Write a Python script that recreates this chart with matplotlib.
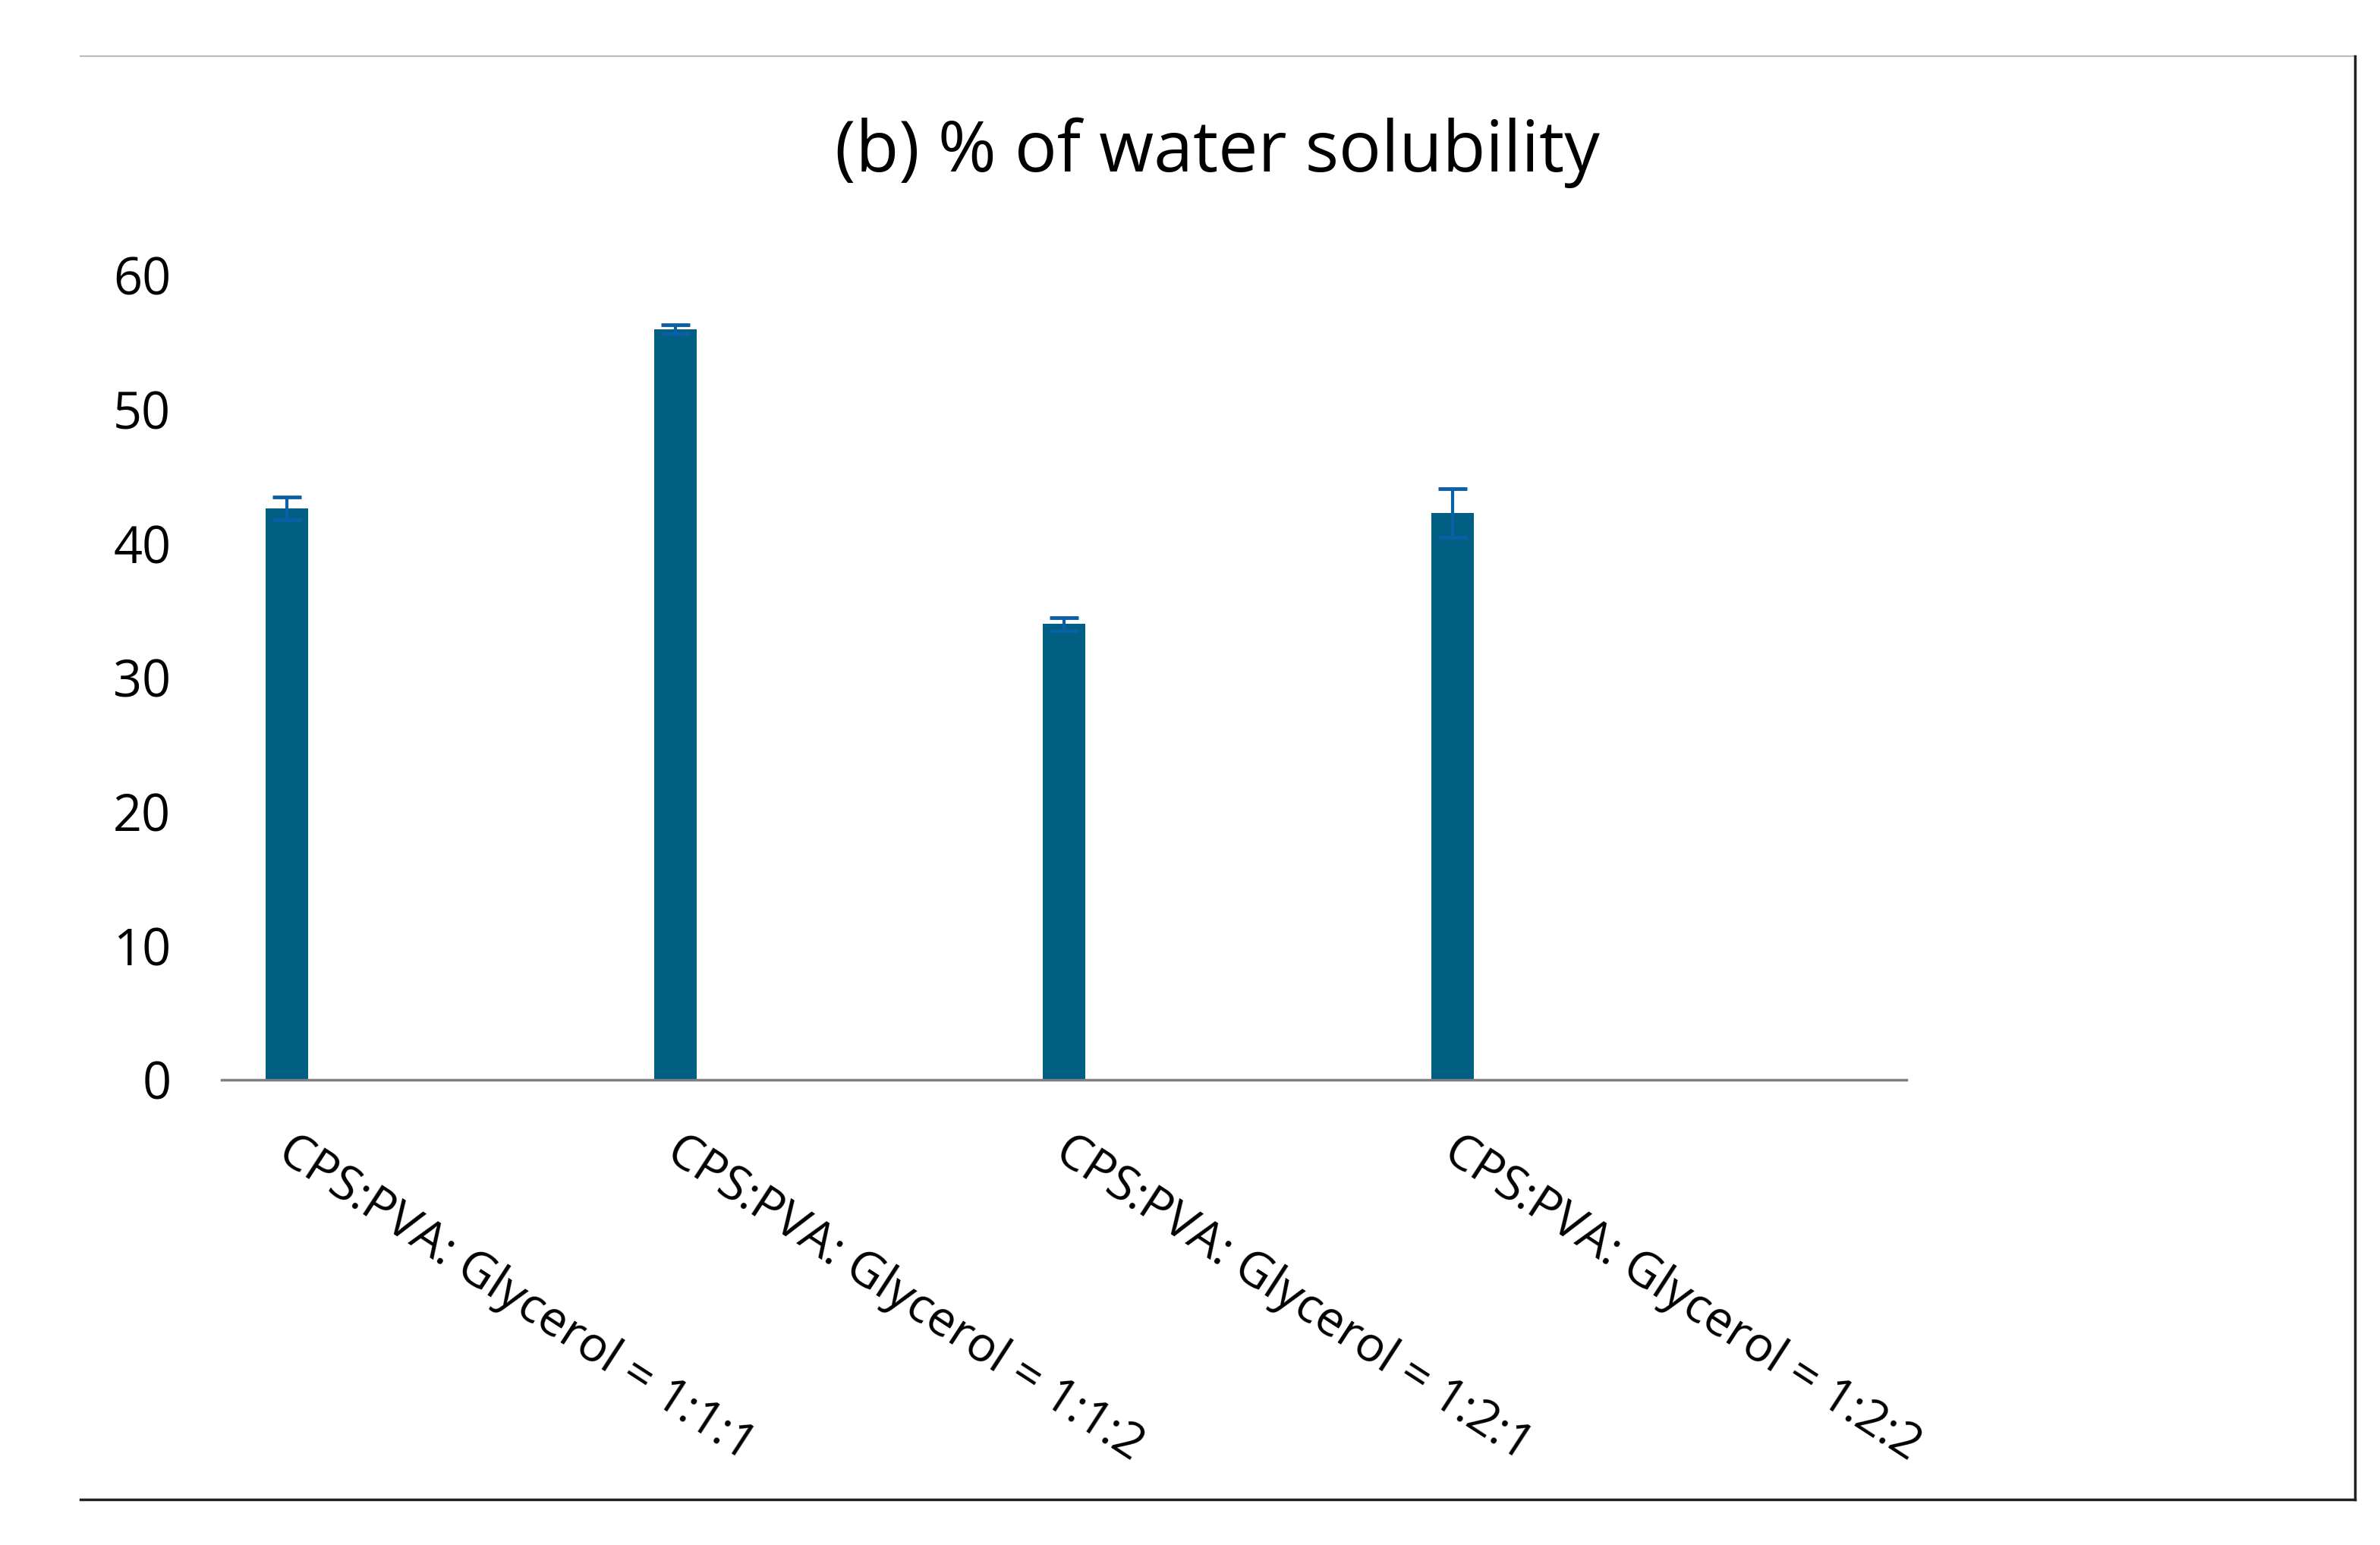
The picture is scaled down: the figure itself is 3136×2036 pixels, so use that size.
import matplotlib
matplotlib.use("Agg")
import matplotlib.pyplot as plt
from matplotlib.lines import Line2D
from matplotlib.transforms import ScaledTranslation

categories = ["CPS:PVA: Glycerol = 1:1:1", "CPS:PVA: Glycerol = 1:1:2",
              "CPS:PVA: Glycerol = 1:2:1", "CPS:PVA: Glycerol = 1:2:2"]
solubility = [42.6, 56.0, 34.0, 42.3]
errors = [0.85, 0.35, 0.5, 1.8]

plt.rcParams['font.family'] = ['Open Sans', 'DejaVu Sans']

fig = plt.figure(figsize=(31.36, 20.36), dpi=100)
ax = fig.add_axes([0.0931, 0.301, 0.708, 0.5207])

x = list(range(len(categories)))
ax.bar(x, solubility, width=0.11, color='#005F83', zorder=2)
ax.errorbar(x, solubility, yerr=errors, fmt='none', ecolor='#0B5FA5',
            elinewidth=3, capsize=14, capthick=3.5, zorder=3)

ax.set_ylim(0, 60)
ax.set_xlim(-0.168, 4.168)
ax.set_yticks(range(0, 61, 10))
ax.tick_params(axis='y', length=0, pad=48, labelsize=48)
ax.set_xticks(x)
ax.set_xticklabels(categories, rotation=-33, ha='left', va='top',
                   rotation_mode='anchor', fontsize=46)
ax.tick_params(axis='x', length=0, pad=44)
# nudge labels a little to the right
offset = ScaledTranslation(12 / 100, 0, fig.dpi_scale_trans)
for lab in ax.get_xticklabels():
    lab.set_transform(lab.get_transform() + offset)
for s in ['top', 'right', 'left']:
    ax.spines[s].set_visible(False)
ax.spines['bottom'].set_color('#7f7f7f')
ax.spines['bottom'].set_linewidth(2.5)

fig.text(0.5115, 0.901, "(b) % of water solubility", ha='center', va='center', fontsize=67)

# outer frame
fig.add_artist(Line2D([0.0338, 0.9894], [0.9637, 0.9637], color='#bbbbbb', lw=1.5))
fig.add_artist(Line2D([0.9894, 0.9894], [0.9637, 0.0295], color='#222222', lw=2.5))
fig.add_artist(Line2D([0.0338, 0.9894], [0.0295, 0.0295], color='#222222', lw=2.5))

fig.savefig("out.png", dpi=100, facecolor='white')
